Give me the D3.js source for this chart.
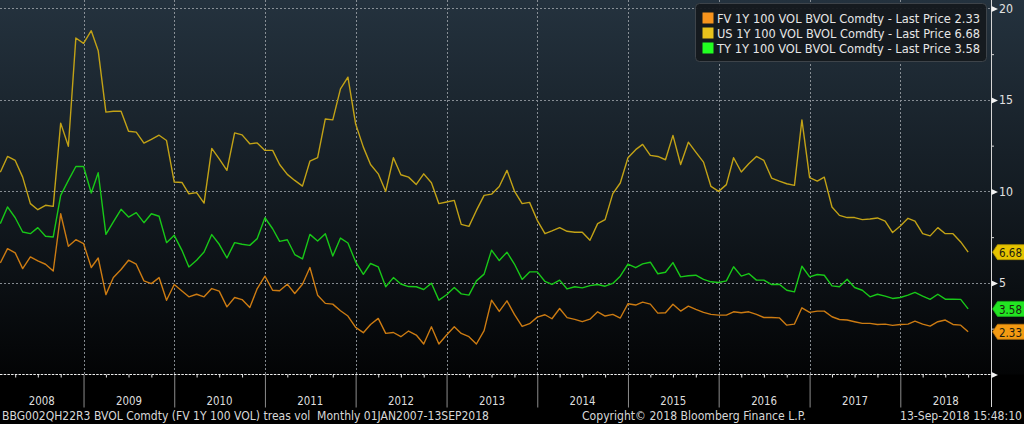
<!DOCTYPE html>
<html><head><meta charset="utf-8">
<script src="https://cdn.jsdelivr.net/npm/d3@7/dist/d3.min.js"></script>
<style>
html,body{margin:0;padding:0;background:#000;overflow:hidden}
svg{display:block}
text{font-family:"DejaVu Sans",Verdana,sans-serif;white-space:pre}
</style>
</head><body>
<svg id="chart" width="1024" height="424"></svg>
<script>
// ---------- data ----------
const firstMonth = new Date(2008, 0, 1);   // Jan 2008 (points dated at month end)
const yearLabels = ["2008","2009","2010","2011","2012","2013","2014","2015","2016","2017","2018"];
const yMajorTicks = [0, 5, 10, 15, 20];
const yMinorTicks = [2.5, 7.5, 12.5, 17.5];
const seriesNames = ["FV 1Y 100 VOL BVOL Comdty - Last Price", "US 1Y 100 VOL BVOL Comdty - Last Price", "TY 1Y 100 VOL BVOL Comdty - Last Price"];
const lastPrices = [2.33, 6.68, 3.58];

const fvVol = [
 6.09,6.87,6.64,5.78,6.42,6.20,6.02,5.65,8.78,7.00,7.36,7.15,
 5.84,6.36,4.36,5.29,5.73,6.24,6.02,5.11,4.96,5.29,4.05,4.91,
 4.56,4.24,4.38,4.24,4.69,4.55,3.69,4.20,4.09,3.65,4.69,5.37,
 4.60,4.57,4.93,4.42,4.93,5.84,4.33,3.88,3.84,3.48,3.19,2.57,
 2.28,2.73,3.06,2.24,2.29,2.06,2.37,2.15,1.66,2.60,1.66,2.15,
 2.60,2.24,2.06,1.66,2.39,4.06,3.44,4.02,3.28,2.62,2.77,3.13,
 3.26,3.04,3.60,3.10,3.01,2.88,3.02,3.42,3.19,3.28,3.08,3.86,
 3.79,3.95,3.84,3.35,3.37,3.83,3.46,3.73,3.55,3.39,3.28,3.24,
 3.24,3.42,3.37,3.42,3.28,3.11,3.11,3.09,2.69,2.75,3.64,3.39,
 3.46,3.46,3.15,3.00,2.97,2.88,2.79,2.79,2.73,2.75,2.68,2.73,
 2.75,2.91,2.75,2.64,2.88,2.97,2.73,2.69,2.33
];
const usVol = [
 11.05,11.91,11.69,10.78,9.33,9.00,9.24,9.18,13.73,12.47,18.38,18.09,
 18.78,17.69,14.33,14.38,14.38,13.29,13.24,12.64,12.84,13.07,12.78,10.51,
 10.49,9.87,9.93,9.36,12.35,11.78,11.15,13.20,13.09,12.60,12.65,12.24,
 12.24,11.47,10.93,10.60,10.29,11.65,11.84,13.96,13.91,15.60,16.24,13.69,
 12.42,11.47,10.96,10.00,11.84,10.91,10.78,10.38,10.96,10.47,9.33,9.42,
 9.51,8.20,8.09,8.96,9.78,9.85,10.27,11.15,10.02,9.33,9.40,8.42,
 7.69,7.84,8.02,7.82,7.77,7.77,7.33,8.24,8.46,9.88,10.46,11.84,
 12.28,12.57,11.97,11.91,11.73,13.06,11.47,12.69,12.15,11.60,10.27,10.00,
 10.37,11.84,11.06,11.51,11.91,11.69,10.73,10.56,10.42,10.33,13.91,10.75,
 10.56,10.78,9.15,8.69,8.57,8.57,8.46,8.49,8.55,8.38,7.75,8.11,
 8.53,8.37,7.69,7.57,8.02,7.69,7.69,7.24,6.68
];
const tyVol = [
 8.24,9.15,8.56,7.78,7.69,8.02,7.55,7.51,9.78,10.60,11.36,11.36,
 9.91,11.02,7.65,8.33,9.02,8.60,8.84,8.29,8.78,8.64,7.20,7.60,
 6.78,5.87,6.24,6.69,7.64,7.11,6.36,7.20,7.11,7.05,7.42,8.56,
 7.96,7.27,7.36,6.55,6.31,7.65,7.29,7.69,6.47,7.45,7.18,6.15,
 5.47,6.06,5.88,4.79,5.29,4.94,4.80,4.79,4.64,4.98,4.06,4.35,
 4.75,4.40,4.33,5.11,5.48,6.79,6.22,6.68,6.03,5.19,5.60,5.60,
 5.08,4.92,5.15,4.67,4.79,4.73,4.85,4.91,4.82,4.97,5.37,6.03,
 5.83,6.04,6.13,5.50,5.58,6.11,5.33,5.39,5.42,5.19,5.06,5.02,
 5.11,5.88,5.37,5.51,5.15,5.15,4.91,4.93,4.60,4.51,5.91,5.33,
 5.46,5.42,4.84,4.79,5.20,4.75,4.60,4.24,4.38,4.28,4.15,4.20,
 4.33,4.48,4.28,4.10,4.38,4.11,4.11,4.10,3.58
];
const footerLeft = "BBG002QH22R3 BVOL Comdty (FV 1Y 100 VOL) treas vol  Monthly 01JAN2007-13SEP2018";
const footerMid = "Copyright\u00A9 2018 Bloomberg Finance L.P.";
const footerRight = "13-Sep-2018 15:48:10";

// ---------- styles ----------
const lineColors = ["#cc7b12", "#c2a216", "#18c818"];
const swatchColors = ["#f7941d", "#e8c21c", "#22ff22"];
const tagColors = ["#f39a12", "#e6c300", "#22e622"];

// ---------- scales ----------
const svg = d3.select("#chart");
const W = 1024, H = 424;
const plotRight = 991, plotBottom = 374.5;

const x = d3.scaleTime()
  .domain([new Date(2008, 0, 1), new Date(2019, 0, 1)])
  .range([-7.4, plotRight]);
const y = d3.scaleLinear().domain([0, 20]).range([374.4, 8.4]);

const dates = usVol.map((_, i) => d3.timeMonth.offset(firstMonth, i + 1));

// ---------- background ----------
const defs = svg.append("defs");
const grad = defs.append("linearGradient").attr("id", "bg")
  .attr("x1", 0).attr("y1", 0).attr("x2", 0).attr("y2", 1);
grad.append("stop").attr("offset", "0%").attr("stop-color", "#24323e");
grad.append("stop").attr("offset", "50%").attr("stop-color", "#141c23");
grad.append("stop").attr("offset", "100%").attr("stop-color", "#030405");
svg.append("rect").attr("width", W).attr("height", H).attr("fill", "#000");
svg.append("rect").attr("width", W).attr("height", plotBottom).attr("fill", "url(#bg)");

defs.append("clipPath").attr("id", "clip")
  .append("rect").attr("x", 0).attr("y", 0).attr("width", plotRight).attr("height", plotBottom);

// ---------- grid ----------
const grid = svg.append("g").attr("stroke", "#9aa0a6").attr("stroke-width", 1)
  .attr("stroke-dasharray", "2,2").attr("opacity", 0.85);
grid.selectAll("line.h").data(yMajorTicks.filter(d => d > 0)).join("line")
  .attr("x1", 0).attr("x2", plotRight)
  .attr("y1", d => Math.round(y(d)) + 0.5).attr("y2", d => Math.round(y(d)) + 0.5);
const yearStarts = yearLabels.slice(1).map(s => new Date(+s, 0, 1));
grid.selectAll("line.v").data(yearStarts).join("line")
  .attr("y1", 0).attr("y2", plotBottom)
  .attr("x1", d => Math.round(x(d)) + 0.5).attr("x2", d => Math.round(x(d)) + 0.5);

// ---------- lines ----------
const lineGen = d3.line().x((d, i) => x(dates[i])).y(d => y(d));
const series = [fvVol, usVol, tyVol];
const plot = svg.append("g").attr("clip-path", "url(#clip)");
[1, 2, 0].forEach(k => {
  plot.append("path").datum(series[k])
    .attr("fill", "none").attr("stroke", lineColors[k])
    .attr("stroke-width", 1.4).attr("stroke-linejoin", "round")
    .attr("d", lineGen);
});

// ---------- x axis ----------
const quarterTicks = d3.timeMonth.range(new Date(2008, 3, 1), new Date(2019, 0, 1), 3)
  .filter(d => d.getMonth() !== 0);
const xq = svg.append("g").attr("transform", `translate(0,${plotBottom})`)
  .call(d3.axisBottom(x).tickValues(quarterTicks).tickSize(3).tickFormat(""));
xq.select(".domain").remove();
xq.selectAll(".tick line").attr("stroke", "#e6e6e6");

const xy = svg.append("g").attr("transform", `translate(0,${plotBottom})`)
  .call(d3.axisBottom(x).tickValues(yearStarts).tickSize(33).tickFormat(""));
xy.select(".domain").remove();
xy.selectAll(".tick line").attr("stroke", "#8c8c8c");

svg.append("line").attr("x1", 0).attr("x2", plotRight)
  .attr("y1", plotBottom).attr("y2", plotBottom)
  .attr("stroke", "#f0f0f0").attr("stroke-width", 1.2).attr("stroke-dasharray", "2.5,1.2");

svg.append("g").selectAll("text").data(yearLabels).join("text")
  .attr("x", d => {
    const a = Math.max(x(new Date(+d, 0, 1)), 0);
    const b = Math.min(x(new Date(+d + 1, 0, 1)), plotRight);
    return (a + b) / 2;
  })
  .attr("y", 404.5).attr("text-anchor", "middle")
  .attr("font-size", 12).attr("fill", "#dedede")
  .attr("textLength", 26).attr("lengthAdjust", "spacingAndGlyphs")
  .text(d => d);

// ---------- y axis (right) ----------
svg.append("line").attr("x1", plotRight + 0.5).attr("x2", plotRight + 0.5)
  .attr("y1", 0).attr("y2", 407).attr("stroke", "#d6d6d6").attr("stroke-width", 1);

const ym = svg.append("g").attr("transform", `translate(${plotRight},0)`)
  .call(d3.axisRight(y).tickValues(yMinorTicks).tickSize(3).tickFormat(""));
ym.select(".domain").remove();
ym.selectAll(".tick line").attr("stroke", "#d6d6d6");

const yax = svg.append("g").attr("transform", `translate(${plotRight},0)`)
  .call(d3.axisRight(y).tickValues(yMajorTicks).tickSize(0).tickPadding(8)
    .tickFormat(d => d === 0 ? "" : d));
yax.select(".domain").remove();
yax.selectAll(".tick text").attr("font-size", 12.5).attr("fill", "#e2e2e2")
  .attr("font-family", '"DejaVu Sans",Verdana,sans-serif')
  .attr("textLength", d => d >= 10 ? 14 : 7).attr("lengthAdjust", "spacingAndGlyphs");
yax.selectAll(".tick").append("path")
  .attr("d", "M0.5,-3 L7,0 L0.5,3 Z").attr("fill", "#f2f2f2");

// ---------- last-price tags ----------
const tags = svg.append("g");
[1, 2, 0].forEach(k => {
  const ty = y(lastPrices[k]);
  const g = tags.append("g").attr("transform", `translate(0,${ty})`);
  g.append("path")
    .attr("d", `M992.5,0 L997.5,-7.5 L1025,-7.5 L1025,7.5 L997.5,7.5 Z`)
    .attr("fill", tagColors[k]).attr("stroke", d3.color(tagColors[k]).darker(0.8)).attr("stroke-width", 0.8);
  g.append("text").attr("x", 999).attr("y", 5)
    .attr("font-size", 13).attr("fill", "#1c1c10")
    .attr("textLength", 23).attr("lengthAdjust", "spacingAndGlyphs")
    .text(lastPrices[k].toFixed(2));
});

// ---------- legend ----------
const lg = svg.append("g");
lg.append("rect").attr("x", 695.5).attr("y", 3.5).attr("width", 291).attr("height", 58)
  .attr("rx", 4).attr("fill", "#15191e").attr("fill-opacity", 0.95)
  .attr("stroke", "#3e444a").attr("stroke-width", 1);
seriesNames.forEach((name, k) => {
  const cy = 18 + k * 15;
  lg.append("rect").attr("x", 702.5).attr("y", cy - 5.5).attr("width", 11).attr("height", 11)
    .attr("fill", swatchColors[k]);
  lg.append("text").attr("x", 717).attr("y", cy + 5)
    .attr("font-size", 12.5).attr("fill", "#e6e6e6")
    .attr("textLength", 263).attr("lengthAdjust", "spacingAndGlyphs")
    .text(name + " " + lastPrices[k].toFixed(2));
});

// ---------- footer ----------
const ft = svg.append("g").attr("font-size", 12).attr("fill", "#d8d8d8");
ft.append("text").attr("x", 2).attr("y", 420).attr("textLength", 487)
  .attr("lengthAdjust", "spacingAndGlyphs").text(footerLeft);
ft.append("text").attr("x", 582).attr("y", 420).attr("textLength", 224)
  .attr("lengthAdjust", "spacingAndGlyphs").text(footerMid);
ft.append("text").attr("x", 900).attr("y", 420).attr("textLength", 122)
  .attr("lengthAdjust", "spacingAndGlyphs").text(footerRight);
</script>
</body></html>
